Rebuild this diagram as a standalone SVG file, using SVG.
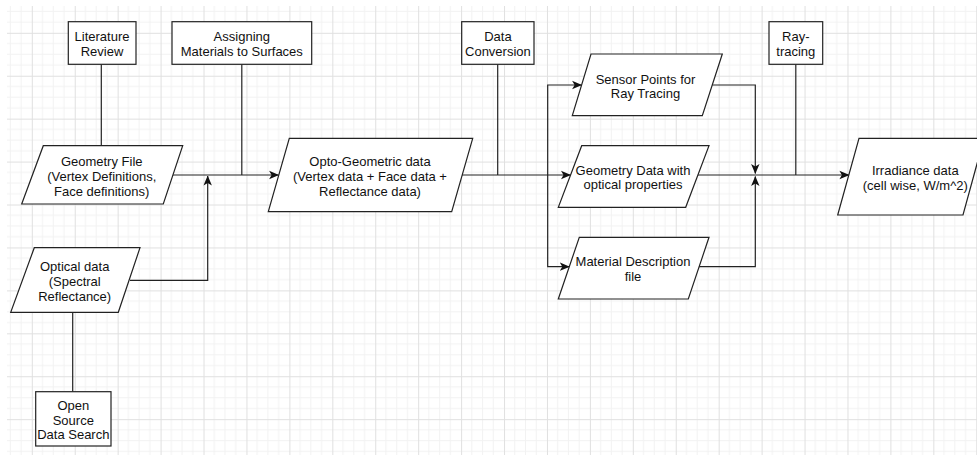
<svg xmlns="http://www.w3.org/2000/svg" width="977" height="455" viewBox="0 0 977 455">
<defs>
  <pattern id="grid" patternUnits="userSpaceOnUse" x="31.8" y="32.8" width="42.93" height="42.93">
    <path d="M10.73,0V42.93M21.47,0V42.93M32.2,0V42.93M0,10.73H42.93M0,21.47H42.93M0,32.2H42.93" stroke="#f2f2f2" stroke-width="1" fill="none"/>
    <path d="M0.5,0V42.93M0,0.5H42.93" stroke="#e0e0e0" stroke-width="1" fill="none"/>
  </pattern>
  <marker id="arr" viewBox="0 0 10 10" refX="9.5" refY="5" markerWidth="10" markerHeight="10" markerUnits="userSpaceOnUse" orient="auto">
    <path d="M0,0.8 L10,5 L0,9.2 L2.5,5 z" fill="#111"/>
  </marker>
  <style>
    .shape{fill:#fff;stroke:#222;stroke-width:1.2}
    .edge{fill:none;stroke:#222;stroke-width:1.2}
    .arrow{marker-end:url(#arr)}
    text{font-family:"Liberation Sans",Arial,Helvetica,sans-serif;font-size:13px;fill:#111;text-anchor:middle;dominant-baseline:central}
  </style>
</defs>
<rect x="0" y="0" width="977" height="455" fill="#fff"/>
<rect x="7" y="6" width="970" height="449" fill="url(#grid)"/>

<g id="connectors">
  <path class="edge" d="M101.3,64.3V145.7"/>
  <path class="edge arrow" d="M172,175H278.6"/>
  <path class="edge" d="M241.8,64.3V175"/>
  <path class="edge arrow" d="M130,280.3H207.7V176"/>
  <path class="edge" d="M72.7,312.3V391.7"/>
  <path class="edge arrow" d="M462,175H570.5"/>
  <path class="edge" d="M497.7,64.3V175"/>
  <path class="edge arrow" d="M547.7,175V85H581.6"/>
  <path class="edge arrow" d="M547.7,175V266.7H569.3"/>
  <path class="edge arrow" d="M712.3,85H755.3V173.5"/>
  <path class="edge arrow" d="M699,266.7H755.3V176.5"/>
  <path class="edge arrow" d="M698,175H848.9"/>
  <path class="edge" d="M795.8,64.3V175"/>
</g>

<g id="literature-review">
  <rect class="shape" x="68.3" y="21.7" width="67.7" height="42.6"/>
  <text x="102" y="36.7">Literature</text>
  <text x="102" y="51.7">Review</text>
</g>
<g id="assigning-materials">
  <rect class="shape" x="172" y="21.7" width="139.7" height="42.6"/>
  <text x="241.8" y="36.7">Assigning</text>
  <text x="241.8" y="51.7">Materials to Surfaces</text>
</g>
<g id="geometry-file">
  <polygon class="shape" points="43.3,145.7 182.7,145.7 163.3,204 21.7,204"/>
  <text x="101.7" y="161.7">Geometry File</text>
  <text x="101.7" y="176.7">(Vertex Definitions,</text>
  <text x="101.7" y="191.7">Face definitions)</text>
</g>
<g id="optical-data">
  <polygon class="shape" points="34.3,247.7 140,247.7 118.3,312.3 10.7,312.3"/>
  <text x="74.7" y="266">Optical data</text>
  <text x="74.7" y="281">(Spectral</text>
  <text x="74.7" y="296">Reflectance)</text>
</g>
<g id="open-source">
  <rect class="shape" x="35.7" y="391.7" width="75.3" height="54.3"/>
  <text x="73.3" y="405">Open</text>
  <text x="73.3" y="420">Source</text>
  <text x="73.3" y="434.5">Data Search</text>
</g>
<g id="opto-geometric">
  <polygon class="shape" points="289.3,138.3 472.7,138.3 451.7,211.7 268.3,211.7"/>
  <text x="370" y="161.7">Opto-Geometric data</text>
  <text x="370" y="176.7">(Vertex data + Face data +</text>
  <text x="370" y="191.7">Reflectance data)</text>
</g>
<g id="data-conversion">
  <rect class="shape" x="461.7" y="21.7" width="72.3" height="42.6"/>
  <text x="497.9" y="36.7">Data</text>
  <text x="497.9" y="51.7">Conversion</text>
</g>
<g id="sensor-points">
  <polygon class="shape" points="591,54 722.3,54 702.3,115.7 572.3,115.7"/>
  <text x="645.5" y="79">Sensor Points for</text>
  <text x="645.5" y="93.5">Ray Tracing</text>
</g>
<g id="geometry-data">
  <polygon class="shape" points="581.7,145.7 709,145.7 685.7,207.3 558.3,207.3"/>
  <text x="633" y="170">Geometry Data with</text>
  <text x="633" y="184.5">optical properties</text>
</g>
<g id="material-description">
  <polygon class="shape" points="579.3,237.3 709,237.3 688.3,299 558.3,299"/>
  <text x="633" y="261.7">Material Description</text>
  <text x="633" y="276">file</text>
</g>
<g id="ray-tracing">
  <rect class="shape" x="769" y="21.7" width="53.7" height="42.6"/>
  <text x="795.8" y="36.7">Ray-</text>
  <text x="795.8" y="51.7">tracing</text>
</g>
<g id="irradiance">
  <polygon class="shape" points="859,138.3 984,138.3 963,215 837.7,215"/>
  <text x="915.3" y="170">Irradiance data</text>
  <text x="915.3" y="185">(cell wise, W/m^2)</text>
</g>
</svg>
